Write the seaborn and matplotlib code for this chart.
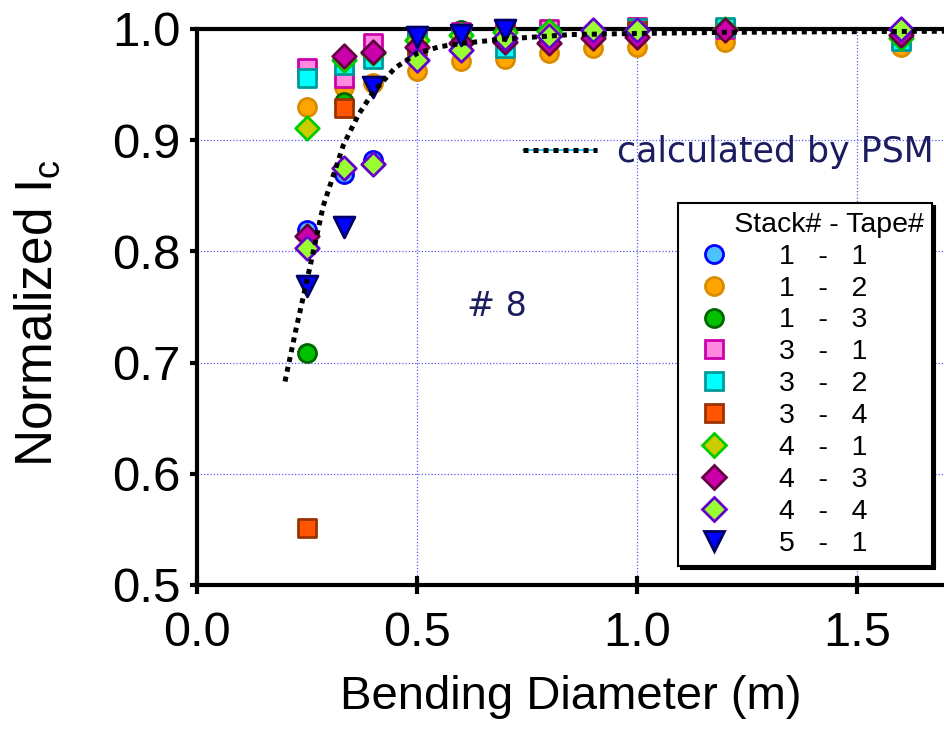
import matplotlib
matplotlib.use("Agg")
import matplotlib.pyplot as plt
import seaborn as sns
import pandas as pd
from matplotlib.lines import Line2D
from matplotlib.legend_handler import HandlerTuple

# ---- measured data: normalized critical current vs bending diameter ----
series = ["1 - 1", "1 - 2", "1 - 3", "3 - 1", "3 - 2", "3 - 4",
          "4 - 1", "4 - 3", "4 - 4", "5 - 1"]

x_1_1 = [0.25, 0.333, 0.4, 0.5, 0.6, 0.7, 0.8, 1.0, 1.2, 1.6]
y_1_1 = [0.819, 0.870, 0.882, 0.990, 0.994, 0.997, 0.998, 0.999, 1.000, 0.998]

x_1_2 = [0.25, 0.333, 0.4, 0.5, 0.6, 0.7, 0.8, 0.9, 1.0, 1.2, 1.6]
y_1_2 = [0.930, 0.948, 0.951, 0.962, 0.971, 0.973, 0.978, 0.983, 0.984, 0.988, 0.984]

x_1_3 = [0.25, 0.333, 0.4, 0.5, 0.6, 0.7, 0.8, 1.0, 1.2, 1.6]
y_1_3 = [0.709, 0.934, 0.974, 0.992, 0.999, 0.998, 0.999, 1.000, 1.000, 0.998]

x_3_1 = [0.25, 0.333, 0.4, 0.5, 0.6, 0.7, 0.8, 1.0, 1.2]
y_3_1 = [0.965, 0.956, 0.987, 0.994, 0.997, 0.999, 1.000, 1.002, 1.000]

x_3_2 = [0.25, 0.333, 0.4, 0.5, 0.6, 0.7, 0.8, 1.0, 1.2, 1.6]
y_3_2 = [0.956, 0.968, 0.973, 0.988, 0.990, 0.983, 0.995, 1.001, 1.002, 0.989]

x_3_4 = [0.25, 0.333, 0.5, 0.7, 1.0]
y_3_4 = [0.551, 0.929, 0.985, 0.995, 0.998]

x_4_1 = [0.25, 0.333, 0.4, 0.5, 0.6, 0.7, 0.8, 1.0, 1.2, 1.6]
y_4_1 = [0.911, 0.972, 0.978, 0.990, 0.995, 0.997, 0.998, 0.999, 1.000, 0.992]

x_4_3 = [0.25, 0.333, 0.4, 0.5, 0.6, 0.7, 0.8, 0.9, 1.0, 1.2, 1.6]
y_4_3 = [0.814, 0.976, 0.979, 0.984, 0.987, 0.988, 0.987, 0.992, 0.993, 0.999, 0.995]

x_4_4 = [0.25, 0.333, 0.4, 0.5, 0.6, 0.7, 0.8, 0.9, 1.0, 1.6]
y_4_4 = [0.803, 0.875, 0.879, 0.972, 0.981, 0.992, 0.994, 0.999, 0.999, 1.000]

x_5_1 = [0.25, 0.333, 0.4, 0.5, 0.6, 0.7]
y_5_1 = [0.769, 0.822, 0.948, 0.993, 0.995, 0.999]

# PSM calculation
psm_x = [0.2, 0.225, 0.25, 0.287, 0.333, 0.367, 0.4, 0.45, 0.5, 0.55, 0.6,
         0.7, 0.85, 1.0, 1.2, 1.45, 1.7]
psm_y = [0.683, 0.730, 0.774, 0.841, 0.896, 0.923, 0.943, 0.965, 0.978, 0.984,
         0.987, 0.991, 0.995, 0.996, 0.997, 0.9975, 0.998]

xs = [x_1_1, x_1_2, x_1_3, x_3_1, x_3_2, x_3_4, x_4_1, x_4_3, x_4_4, x_5_1]
ys = [y_1_1, y_1_2, y_1_3, y_3_1, y_3_2, y_3_4, y_4_1, y_4_3, y_4_4, y_5_1]

# marker, face colour, edge colour
styles = {
    "1 - 1": ("o", "#4cc2ff", "#0000ff"),
    "1 - 2": ("o", "#ffa500", "#d98c00"),
    "1 - 3": ("o", "#00c000", "#006400"),
    "3 - 1": ("s", "#ff88e0", "#cc00aa"),
    "3 - 2": ("s", "#00ffff", "#009999"),
    "3 - 4": ("s", "#ff5500", "#993300"),
    "4 - 1": ("D", "#cccc00", "#00cc00"),
    "4 - 3": ("D", "#cc00aa", "#660044"),
    "4 - 4": ("D", "#99ff33", "#6600cc"),
    "5 - 1": ("v", "#0000ff", "#000066"),
}
marker_pts = {"o": 13.0, "s": 12.5, "D": 12.0, "v": 15.0}

sns.set_theme(style="white")
plt.rcParams["font.family"] = ["Liberation Sans", "DejaVu Sans"]
plt.rcParams["mathtext.fontset"] = "custom"
plt.rcParams["mathtext.rm"] = "Liberation Sans"
plt.rcParams["mathtext.it"] = "Liberation Sans"
for key in ["text.color", "axes.labelcolor", "xtick.color", "ytick.color"]:
    plt.rcParams[key] = "black"

W, H = 944, 729
fig = plt.figure(figsize=(W / 100, H / 100), dpi=100)
fig.patch.set_facecolor("white")
ax = fig.add_axes([197 / W, 144 / H, (W - 197) / W, (585 - 29) / H])
ax.set_facecolor("white")

handles = []
for name, sx, sy in zip(series, xs, ys):
    mk, fc, ec = styles[name]
    df = pd.DataFrame({"d": sx, "ic": sy})
    sns.scatterplot(data=df, x="d", y="ic", marker=mk, color=fc, edgecolor=ec,
                    linewidth=2.0, s=marker_pts[mk] ** 2, ax=ax,
                    clip_on=False, zorder=5, legend=False)
    handles.append(Line2D([], [], ls="none", marker=mk, mfc=fc, mec=ec,
                          mew=2.0, ms=marker_pts[mk]))

psm = pd.DataFrame({"d": psm_x, "ic": psm_y})
sns.lineplot(data=psm, x="d", y="ic", color="black", lw=3.6,
             linestyle=(0, (1.0, 1.0)), ax=ax, zorder=8, clip_on=False)
for ln in ax.lines:
    ln.set_dash_capstyle("butt")

ax.set_xlim(0, (W - 197) / 440)
ax.set_ylim(0.5, 1.0)
ax.set_xticks([0.0, 0.5, 1.0, 1.5])
ax.set_xticklabels(["0.0", "0.5", "1.0", "1.5"])
ax.set_yticks([0.5, 0.6, 0.7, 0.8, 0.9, 1.0])
ax.set_yticklabels(["0.5", "0.6", "0.7", "0.8", "0.9", "1.0"])

ax.grid(True, color="#5a5aff", linestyle=(0, (1, 1.6)), lw=0.9)
ax.set_axisbelow(True)

for side in ["left", "bottom", "top"]:
    ax.spines[side].set_visible(True)
    ax.spines[side].set_color("black")
    ax.spines[side].set_linewidth(3.0)
    ax.spines[side].set_zorder(3)
ax.spines["right"].set_visible(False)

ax.tick_params(axis="y", direction="out", length=5, width=3, color="black",
               labelsize=35.5, pad=7, left=True)
ax.tick_params(axis="x", direction="inout", length=13, width=3, color="black",
               labelsize=35, pad=12, bottom=True)

ax.set_xlabel("Bending Diameter (m)", fontsize=34, labelpad=14)
ax.set_ylabel(r"Normalized I$_{\mathregular{c}}$", fontsize=37)
ax.yaxis.set_label_coords(-0.18, 0.49)

navy = "#1c1c60"
ax.text(0.682, 0.750, "# 8", fontsize=24, color=navy, family="DejaVu Sans",
        ha="center", va="center")

# PSM key
psm_key = (Line2D([], [], color="#00b8e6", lw=1.2),
           Line2D([], [], color="black", lw=3.6, linestyle=(0, (1.0, 1.0))))
leg2 = fig.legend([psm_key], ["calculated by PSM"], loc="center left",
                  bbox_to_anchor=(523 / W, 1 - 152 / H),
                  bbox_transform=fig.transFigure, frameon=False,
                  handlelength=2.13, handletextpad=0.58, borderpad=0,
                  borderaxespad=0, handler_map={tuple: HandlerTuple(ndivide=1)},
                  prop={"family": "DejaVu Sans", "size": 25})
for t in leg2.get_texts():
    t.set_color(navy)

leg = fig.legend(handles, series, title="      Stack# - Tape#",
                 loc="upper left", bbox_to_anchor=(678 / W, 1 - 203 / H),
                 bbox_transform=fig.transFigure, fontsize=20.5,
                 title_fontsize=20.5, alignment="left", frameon=True,
                 fancybox=False, borderpad=0.3, borderaxespad=0,
                 handlelength=1.9, handletextpad=1.33, labelspacing=0.21,
                 shadow={"ox": 2.2, "oy": -2.2, "facecolor": "black",
                         "edgecolor": "black", "alpha": 1.0})
leg.get_frame().set_edgecolor("black")
leg.get_frame().set_linewidth(1.5)
leg.get_frame().set_facecolor("white")
for t in leg.get_texts():
    t.set_text(t.get_text().replace(" - ", "   -   "))

fig.savefig("out.png", dpi=100, facecolor="white")
